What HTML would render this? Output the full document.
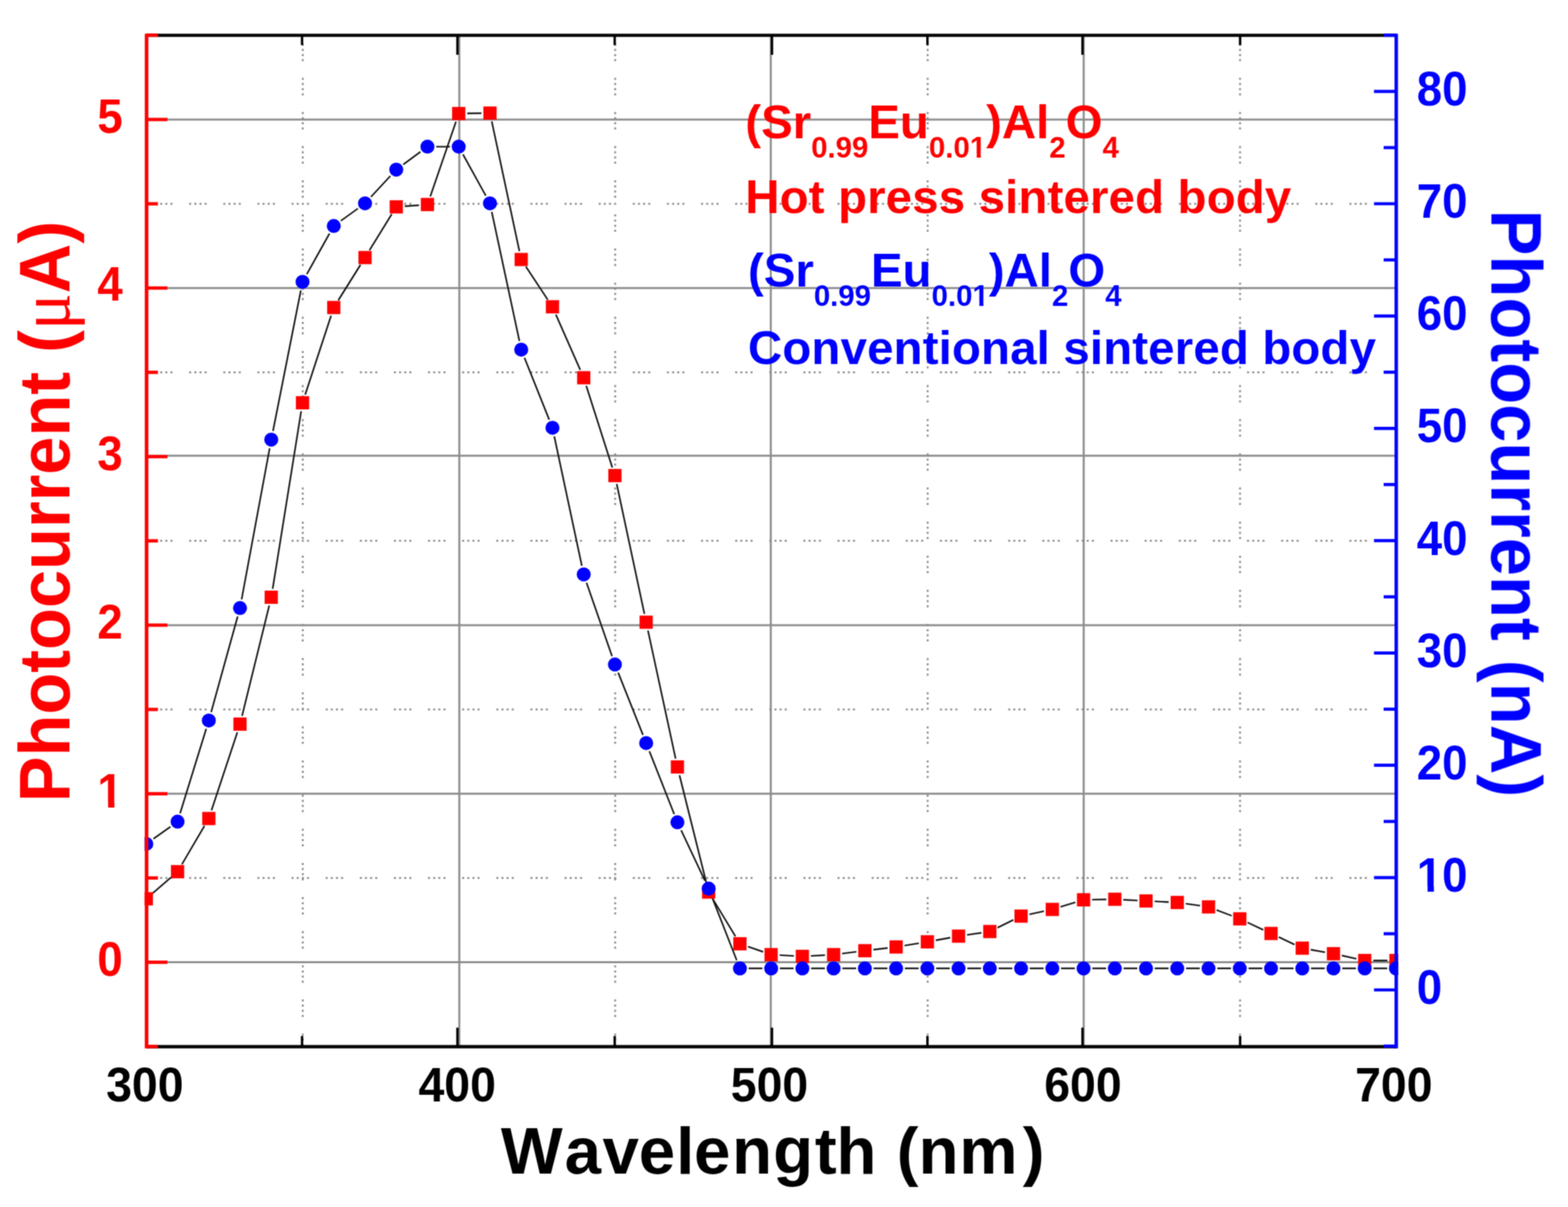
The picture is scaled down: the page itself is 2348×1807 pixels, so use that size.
<!DOCTYPE html><html><head><meta charset="utf-8"><style>html,body{margin:0;padding:0;background:#fff;overflow:hidden}svg{display:block}</style></head><body><svg width="2348" height="1807" viewBox="0 0 2348 1807"><defs><clipPath id="pc"><rect x="216.5" y="49.8" width="1877.3" height="1520.2"/></clipPath></defs><defs><filter id="soft" x="0" y="0" width="2348" height="1807" filterUnits="userSpaceOnUse" color-interpolation-filters="sRGB"><feConvolveMatrix order="3" kernelMatrix="1 2 1 2 4 2 1 2 1" divisor="16" edgeMode="duplicate"/></filter></defs><rect width="2348" height="1807" fill="#fff"/><g filter="url(#soft)"><g stroke="#8c8c8c" stroke-width="3" fill="none"><line x1="687.8" y1="52.8" x2="687.8" y2="1567.0"/><line x1="1154.2" y1="52.8" x2="1154.2" y2="1567.0"/><line x1="1622.8" y1="52.8" x2="1622.8" y2="1567.0"/><line x1="219.5" y1="1440.5" x2="2090.8" y2="1440.5"/><line x1="219.5" y1="1188.2" x2="2090.8" y2="1188.2"/><line x1="219.5" y1="936.0" x2="2090.8" y2="936.0"/><line x1="219.5" y1="682.3" x2="2090.8" y2="682.3"/><line x1="219.5" y1="431.2" x2="2090.8" y2="431.2"/><line x1="219.5" y1="179.0" x2="2090.8" y2="179.0"/></g><g stroke="#8a8a8a" stroke-width="2.8" fill="none" stroke-dasharray="3 4.7 3 4.7 3 4.7 3 25"><line x1="453.4" y1="65.5" x2="453.4" y2="1564.0"/><line x1="921.2" y1="65.5" x2="921.2" y2="1564.0"/><line x1="1389.1" y1="65.5" x2="1389.1" y2="1564.0"/><line x1="1856.9" y1="65.5" x2="1856.9" y2="1564.0"/><line x1="232.2" y1="1314.4" x2="2087.8" y2="1314.4"/><line x1="232.2" y1="1062.1" x2="2087.8" y2="1062.1"/><line x1="232.2" y1="809.7" x2="2087.8" y2="809.7"/><line x1="232.2" y1="557.4" x2="2087.8" y2="557.4"/><line x1="232.2" y1="305.1" x2="2087.8" y2="305.1"/></g><g clip-path="url(#pc)"><path d="M228.8 1337.2L256.2 1313.4M272.4 1294.0L306.2 1236.4M316.7 1213.2L355.4 1096.3M362.5 1071.7L403.2 906.5M408.3 881.5L451.0 615.6M457.0 590.8L495.8 472.6M506.6 449.5L539.8 396.5M553.3 374.7L586.6 320.6M606.1 308.7L627.4 307.2M644.3 294.1L682.8 182.1M699.7 169.8L720.9 169.5M736.4 181.8L777.8 376.0M787.5 399.2L820.2 448.6M832.4 471.0L868.9 553.8M877.9 577.7L916.9 699.8M923.5 724.5L965.0 919.0M970.3 944.0L1011.7 1135.7M1017.5 1160.6L1058.1 1323.1M1067.8 1346.5L1101.3 1401.9M1120.1 1417.1L1142.7 1425.0M1167.5 1429.9L1188.8 1431.1M1214.3 1431.1L1235.5 1429.9M1261.0 1427.6L1282.4 1424.9M1307.8 1421.8L1329.2 1419.2M1354.5 1415.6L1376.0 1412.1M1401.3 1407.7L1422.9 1403.8M1448.1 1399.6L1469.6 1396.5M1493.7 1388.9L1517.5 1377.2M1541.5 1368.8L1563.3 1364.2M1588.0 1357.7L1610.3 1350.9M1635.4 1346.9L1656.6 1346.5M1682.1 1347.0L1703.4 1348.1M1728.9 1349.4L1750.1 1350.5M1775.6 1352.9L1797.0 1355.9M1821.7 1362.3L1844.5 1371.0M1868.1 1381.0L1891.7 1392.1M1914.9 1402.9L1938.5 1414.1M1962.7 1421.7L1984.2 1425.6M2009.3 1430.5L2031.1 1435.3M2056.4 1438.0L2077.6 1438.0" stroke="#141414" stroke-width="2.4" fill="none"/><path d="M229.8 1255.8L255.2 1237.7M269.7 1217.6L308.8 1091.2M316.2 1066.1L355.9 922.9M361.8 897.4L403.8 671.1M408.8 645.3L450.5 434.8M459.4 410.5L493.4 349.7M510.4 330.6L536.0 312.1M555.5 294.8L584.5 263.5M603.9 246.2L629.6 227.3M653.2 219.6L673.8 219.6M693.3 231.1L727.4 292.9M736.4 317.2L777.8 510.6M785.4 535.6L822.4 628.2M830.0 653.2L871.3 847.1M878.3 872.3L916.5 982.4M925.7 1007.0L962.8 1100.2M972.4 1124.6L1009.6 1218.9M1020.0 1242.9L1055.6 1318.5M1066.0 1342.5L1103.2 1437.6M1121.1 1449.8L1141.7 1449.8M1167.8 1449.8L1188.4 1449.8M1214.6 1449.8L1235.2 1449.8M1261.4 1449.8L1282.0 1449.8M1308.2 1449.8L1328.8 1449.8M1355.0 1449.8L1375.6 1449.8M1401.8 1449.8L1422.3 1449.8M1448.5 1449.8L1469.1 1449.8M1495.3 1449.8L1515.9 1449.8M1542.1 1449.8L1562.7 1449.8M1588.9 1449.8L1609.5 1449.8M1635.7 1449.8L1656.3 1449.8M1682.5 1449.8L1703.0 1449.8M1729.2 1449.8L1749.8 1449.8M1776.0 1449.8L1796.6 1449.8M1822.8 1449.8L1843.4 1449.8M1869.6 1449.8L1890.2 1449.8M1916.4 1449.8L1937.0 1449.8M1963.2 1449.8L1983.7 1449.8M2009.9 1449.8L2030.5 1449.8M2056.7 1449.8L2077.3 1449.8" stroke="#141414" stroke-width="2.4" fill="none"/><g fill="#ff0000"><rect x="209.2" y="1335.7" width="19.8" height="19.8"/><rect x="256.0" y="1295.1" width="19.8" height="19.8"/><rect x="302.8" y="1215.5" width="19.8" height="19.8"/><rect x="349.5" y="1074.2" width="19.8" height="19.8"/><rect x="396.3" y="884.2" width="19.8" height="19.8"/><rect x="443.1" y="593.1" width="19.8" height="19.8"/><rect x="489.9" y="450.5" width="19.8" height="19.8"/><rect x="536.7" y="375.7" width="19.8" height="19.8"/><rect x="583.5" y="299.8" width="19.8" height="19.8"/><rect x="630.2" y="296.3" width="19.8" height="19.8"/><rect x="677.0" y="160.1" width="19.8" height="19.8"/><rect x="723.8" y="159.4" width="19.8" height="19.8"/><rect x="770.6" y="378.6" width="19.8" height="19.8"/><rect x="817.4" y="449.4" width="19.8" height="19.8"/><rect x="864.2" y="555.6" width="19.8" height="19.8"/><rect x="910.9" y="702.1" width="19.8" height="19.8"/><rect x="957.7" y="921.6" width="19.8" height="19.8"/><rect x="1004.5" y="1138.3" width="19.8" height="19.8"/><rect x="1051.3" y="1325.6" width="19.8" height="19.8"/><rect x="1098.1" y="1403.0" width="19.8" height="19.8"/><rect x="1144.8" y="1419.3" width="19.8" height="19.8"/><rect x="1191.6" y="1421.9" width="19.8" height="19.8"/><rect x="1238.4" y="1419.3" width="19.8" height="19.8"/><rect x="1285.2" y="1413.4" width="19.8" height="19.8"/><rect x="1332.0" y="1407.8" width="19.8" height="19.8"/><rect x="1378.8" y="1400.1" width="19.8" height="19.8"/><rect x="1425.5" y="1391.6" width="19.8" height="19.8"/><rect x="1472.3" y="1384.7" width="19.8" height="19.8"/><rect x="1519.1" y="1361.6" width="19.8" height="19.8"/><rect x="1565.9" y="1351.6" width="19.8" height="19.8"/><rect x="1612.7" y="1337.2" width="19.8" height="19.8"/><rect x="1659.5" y="1336.4" width="19.8" height="19.8"/><rect x="1706.2" y="1338.9" width="19.8" height="19.8"/><rect x="1753.0" y="1341.2" width="19.8" height="19.8"/><rect x="1799.8" y="1347.8" width="19.8" height="19.8"/><rect x="1846.6" y="1365.7" width="19.8" height="19.8"/><rect x="1893.4" y="1387.6" width="19.8" height="19.8"/><rect x="1940.2" y="1409.6" width="19.8" height="19.8"/><rect x="1986.9" y="1417.9" width="19.8" height="19.8"/><rect x="2033.7" y="1428.1" width="19.8" height="19.8"/><rect x="2080.5" y="1428.1" width="19.8" height="19.8"/></g><g fill="#0000ff"><circle cx="219.1" cy="1263.4" r="10.5"/><circle cx="265.9" cy="1230.1" r="10.5"/><circle cx="312.7" cy="1078.7" r="10.5"/><circle cx="359.4" cy="910.3" r="10.5"/><circle cx="406.2" cy="658.2" r="10.5"/><circle cx="453.0" cy="421.9" r="10.5"/><circle cx="499.8" cy="338.3" r="10.5"/><circle cx="546.6" cy="304.4" r="10.5"/><circle cx="593.4" cy="253.9" r="10.5"/><circle cx="640.1" cy="219.6" r="10.5"/><circle cx="686.9" cy="219.6" r="10.5"/><circle cx="733.7" cy="304.4" r="10.5"/><circle cx="780.5" cy="523.4" r="10.5"/><circle cx="827.3" cy="640.4" r="10.5"/><circle cx="874.1" cy="859.9" r="10.5"/><circle cx="920.8" cy="994.8" r="10.5"/><circle cx="967.6" cy="1112.4" r="10.5"/><circle cx="1014.4" cy="1231.1" r="10.5"/><circle cx="1061.2" cy="1330.3" r="10.5"/><circle cx="1108.0" cy="1449.8" r="10.5"/><circle cx="1154.8" cy="1449.8" r="10.5"/><circle cx="1201.5" cy="1449.8" r="10.5"/><circle cx="1248.3" cy="1449.8" r="10.5"/><circle cx="1295.1" cy="1449.8" r="10.5"/><circle cx="1341.9" cy="1449.8" r="10.5"/><circle cx="1388.7" cy="1449.8" r="10.5"/><circle cx="1435.4" cy="1449.8" r="10.5"/><circle cx="1482.2" cy="1449.8" r="10.5"/><circle cx="1529.0" cy="1449.8" r="10.5"/><circle cx="1575.8" cy="1449.8" r="10.5"/><circle cx="1622.6" cy="1449.8" r="10.5"/><circle cx="1669.4" cy="1449.8" r="10.5"/><circle cx="1716.1" cy="1449.8" r="10.5"/><circle cx="1762.9" cy="1449.8" r="10.5"/><circle cx="1809.7" cy="1449.8" r="10.5"/><circle cx="1856.5" cy="1449.8" r="10.5"/><circle cx="1903.3" cy="1449.8" r="10.5"/><circle cx="1950.1" cy="1449.8" r="10.5"/><circle cx="1996.8" cy="1449.8" r="10.5"/><circle cx="2043.6" cy="1449.8" r="10.5"/><circle cx="2090.4" cy="1449.8" r="10.5"/></g></g><line x1="219.5" y1="52.8" x2="2090.8" y2="52.8" stroke="#000" stroke-width="4.8"/><line x1="219.5" y1="1567.0" x2="2090.8" y2="1567.0" stroke="#000" stroke-width="4.8"/><g stroke="#000" stroke-width="3.6"><line x1="685.0" y1="1567.0" x2="685.0" y2="1538.5"/><line x1="685.0" y1="52.8" x2="685.0" y2="82"/><line x1="1156.0" y1="1567.0" x2="1156.0" y2="1538.5"/><line x1="1156.0" y1="52.8" x2="1156.0" y2="82"/><line x1="1621.0" y1="1567.0" x2="1621.0" y2="1538.5"/><line x1="1621.0" y1="52.8" x2="1621.0" y2="82"/><line x1="452.3" y1="1567.0" x2="452.3" y2="1551"/><line x1="452.3" y1="52.8" x2="452.3" y2="67.5"/><line x1="920.5" y1="1567.0" x2="920.5" y2="1551"/><line x1="920.5" y1="52.8" x2="920.5" y2="67.5"/><line x1="1388.8" y1="1567.0" x2="1388.8" y2="1551"/><line x1="1388.8" y1="52.8" x2="1388.8" y2="67.5"/><line x1="1857.0" y1="1567.0" x2="1857.0" y2="1551"/><line x1="1857.0" y1="52.8" x2="1857.0" y2="67.5"/></g><g stroke="#ff0000" stroke-width="5.0"><line x1="219.5" y1="50.4" x2="219.5" y2="1569.4" stroke-width="5.4"/><line x1="219.5" y1="1440.6" x2="250.7" y2="1440.6"/><line x1="219.5" y1="1188.3" x2="250.7" y2="1188.3"/><line x1="219.5" y1="935.9" x2="250.7" y2="935.9"/><line x1="219.5" y1="683.6" x2="250.7" y2="683.6"/><line x1="219.5" y1="431.2" x2="250.7" y2="431.2"/><line x1="219.5" y1="178.9" x2="250.7" y2="178.9"/><line x1="219.5" y1="1566.8" x2="236.5" y2="1566.8"/><line x1="219.5" y1="1314.4" x2="236.5" y2="1314.4"/><line x1="219.5" y1="1062.1" x2="236.5" y2="1062.1"/><line x1="219.5" y1="809.7" x2="236.5" y2="809.7"/><line x1="219.5" y1="557.4" x2="236.5" y2="557.4"/><line x1="219.5" y1="305.1" x2="236.5" y2="305.1"/><line x1="219.5" y1="52.7" x2="236.5" y2="52.7"/></g><g stroke="#0000ff" stroke-width="4.7"><line x1="2090.8" y1="50.4" x2="2090.8" y2="1569.4" stroke-width="5.2"/><line x1="2090.8" y1="1482.0" x2="2057.5" y2="1482.0"/><line x1="2090.8" y1="1313.9" x2="2057.5" y2="1313.9"/><line x1="2090.8" y1="1145.7" x2="2057.5" y2="1145.7"/><line x1="2090.8" y1="977.6" x2="2057.5" y2="977.6"/><line x1="2090.8" y1="809.4" x2="2057.5" y2="809.4"/><line x1="2090.8" y1="641.3" x2="2057.5" y2="641.3"/><line x1="2090.8" y1="473.2" x2="2057.5" y2="473.2"/><line x1="2090.8" y1="305.0" x2="2057.5" y2="305.0"/><line x1="2090.8" y1="136.9" x2="2057.5" y2="136.9"/><line x1="2090.8" y1="1566.1" x2="2072" y2="1566.1"/><line x1="2090.8" y1="1397.9" x2="2072" y2="1397.9"/><line x1="2090.8" y1="1229.8" x2="2072" y2="1229.8"/><line x1="2090.8" y1="1061.7" x2="2072" y2="1061.7"/><line x1="2090.8" y1="893.5" x2="2072" y2="893.5"/><line x1="2090.8" y1="725.4" x2="2072" y2="725.4"/><line x1="2090.8" y1="557.2" x2="2072" y2="557.2"/><line x1="2090.8" y1="389.1" x2="2072" y2="389.1"/><line x1="2090.8" y1="221.0" x2="2072" y2="221.0"/><line x1="2090.8" y1="52.8" x2="2072" y2="52.8"/></g><defs><clipPath id="no1foot" clipPathUnits="userSpaceOnUse"><rect x="-500" y="-500" width="1000" height="491.6"/><rect x="-23.0" y="-10" width="10.0" height="20"/></clipPath></defs><g font-family="'Liberation Sans', Arial, sans-serif" font-weight="bold" font-size="72" style="font-kerning:none"><g fill="#ff0000"><g transform="translate(145.71 1461.08) scale(0.95 1)"><text x="0.00" y="0">0</text></g><g transform="translate(145.71 1208.74) scale(0.95 1)"><g transform="translate(40.00 0)"><text x="-40" y="0" clip-path="url(#no1foot)">1</text></g></g><g transform="translate(145.71 956.40) scale(0.95 1)"><text x="0.00" y="0">2</text></g><g transform="translate(145.71 704.06) scale(0.95 1)"><text x="0.00" y="0">3</text></g><g transform="translate(145.71 450.08) scale(0.95 1)"><text x="0.00" y="0">4</text></g><g transform="translate(145.71 199.38) scale(0.95 1)"><text x="0.00" y="0">5</text></g></g><g fill="#0000ff"><g transform="translate(2121.56 1503.18) scale(0.95 1)"><text x="0.00" y="0">0</text></g><g transform="translate(2121.56 1335.04) scale(0.95 1)"><g transform="translate(40.00 0)"><text x="-40" y="0" clip-path="url(#no1foot)">1</text></g><text x="40.03" y="0">0</text></g><g transform="translate(2121.56 1166.90) scale(0.95 1)"><text x="0.00" y="0">2</text><text x="40.03" y="0">0</text></g><g transform="translate(2121.56 998.76) scale(0.95 1)"><text x="0.00" y="0">3</text><text x="40.03" y="0">0</text></g><g transform="translate(2121.56 830.62) scale(0.95 1)"><text x="0.00" y="0">4</text><text x="40.03" y="0">0</text></g><g transform="translate(2121.56 662.48) scale(0.95 1)"><text x="0.00" y="0">5</text><text x="40.03" y="0">0</text></g><g transform="translate(2121.56 494.34) scale(0.95 1)"><text x="0.00" y="0">6</text><text x="40.03" y="0">0</text></g><g transform="translate(2121.56 326.20) scale(0.95 1)"><text x="0.00" y="0">7</text><text x="40.03" y="0">0</text></g><g transform="translate(2121.56 158.06) scale(0.95 1)"><text x="0.00" y="0">8</text><text x="40.03" y="0">0</text></g></g><g fill="#000"><g transform="translate(158.95 1648.78) scale(0.965 1)"><text x="0.00" y="0">3</text><text x="40.03" y="0">0</text><text x="80.06" y="0">0</text></g><g transform="translate(626.75 1648.78) scale(0.965 1)"><text x="0.00" y="0">4</text><text x="40.03" y="0">0</text><text x="80.06" y="0">0</text></g><g transform="translate(1094.35 1648.78) scale(0.965 1)"><text x="0.00" y="0">5</text><text x="40.03" y="0">0</text><text x="80.06" y="0">0</text></g><g transform="translate(1563.65 1648.78) scale(0.965 1)"><text x="0.00" y="0">6</text><text x="40.03" y="0">0</text><text x="80.06" y="0">0</text></g><g transform="translate(2029.15 1648.78) scale(0.965 1)"><text x="0.00" y="0">7</text><text x="40.03" y="0">0</text><text x="80.06" y="0">0</text></g></g></g><g transform="translate(104 1201) rotate(-90) scale(0.9566 1)"><text font-family="'Liberation Sans', Arial, sans-serif" font-weight="bold" font-size="107.3" fill="#ff0000" style="font-kerning:none">Photocurrent (<tspan font-family="'Liberation Serif', serif" font-weight="normal">μ</tspan>A)</text></g><g transform="translate(2233.3 313.8) rotate(90) scale(0.9496 1)"><text font-family="'Liberation Sans', Arial, sans-serif" font-weight="bold" font-size="108.3" fill="#0000ff" style="font-kerning:none">Photocurrent (nA)</text></g><text x="750.1 845.5 902.2 956.6 1012.6 1039.2 1096.2 1157.8 1220.3 1252.5 1312.3 1342.8 1375.6 1436.6 1531.6" y="1757" font-family="'Liberation Sans', Arial, sans-serif" font-weight="bold" font-size="98" fill="#000" style="font-kerning:none">Wavelength (nm)</text><defs><clipPath id="nf44" clipPathUnits="userSpaceOnUse"><rect x="-1000" y="-1000" width="2000" height="994.6"/><rect x="10.4" y="-44" width="6.1" height="88"/></clipPath></defs><g font-family="'Liberation Sans', Arial, sans-serif" font-weight="bold" fill="#ff0000" style="font-kerning:none"><text x="1116.00" y="206.5" font-size="71">(Sr</text><text x="1214.63" y="235.5" font-size="44">0.99</text><text x="1300.27" y="206.5" font-size="71">Eu</text><text x="1390.99" y="235.5" font-size="44">0.0</text><g transform="translate(1452.16 235.5)"><text x="0" y="0" font-size="44" clip-path="url(#nf44)">1</text></g><text x="1476.63" y="206.5" font-size="71">)Al</text><text x="1571.27" y="235.5" font-size="44">2</text><text x="1595.74" y="206.5" font-size="71">O</text><text x="1650.97" y="235.5" font-size="44">4</text></g><text x="1116" y="319" font-family="'Liberation Sans', Arial, sans-serif" font-weight="bold" font-size="71" fill="#ff0000" style="font-kerning:none" letter-spacing="0.22">Hot press sintered body</text><g font-family="'Liberation Sans', Arial, sans-serif" font-weight="bold" fill="#0000ff" style="font-kerning:none"><text x="1120.00" y="429" font-size="71">(Sr</text><text x="1218.63" y="458" font-size="44">0.99</text><text x="1304.27" y="429" font-size="71">Eu</text><text x="1394.99" y="458" font-size="44">0.0</text><g transform="translate(1456.16 458)"><text x="0" y="0" font-size="44" clip-path="url(#nf44)">1</text></g><text x="1480.63" y="429" font-size="71">)Al</text><text x="1575.27" y="458" font-size="44">2</text><text x="1599.74" y="429" font-size="71">O</text><text x="1654.97" y="458" font-size="44">4</text></g><text x="1120" y="545" font-family="'Liberation Sans', Arial, sans-serif" font-weight="bold" font-size="71" fill="#0000ff" style="font-kerning:none" letter-spacing="0.22">Conventional sintered body</text></g></svg></body></html>
